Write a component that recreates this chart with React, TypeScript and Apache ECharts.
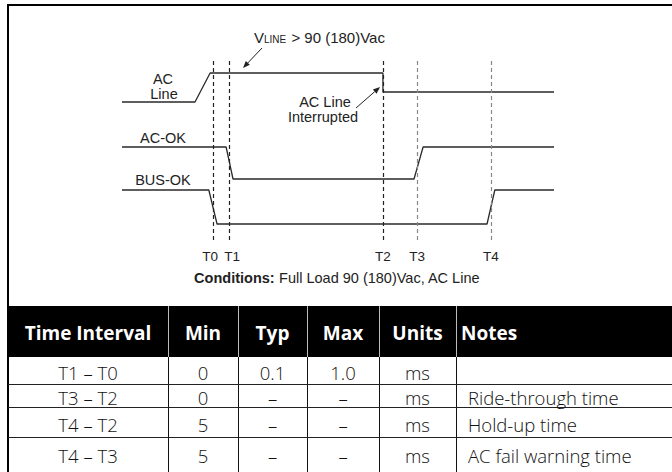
import React, { useEffect, useRef } from "react";
import * as echarts from "echarts";

// ---- Timing diagram data (time in arbitrary units 0..100, level in divisions) ----
const markerNames = ["T0", "T1", "T2", "T3", "T4"];
const markerTimes = [21.1, 24.8, 60.4, 68.3, 85.4];
const markerColors = ["#222", "#222", "#222", "#888", "#888"];

const acLineT = [0, 16.9, 20.4, 60.4, 60.4, 100];
const acLineV = [13.8, 13.8, 16.7, 16.7, 14.8, 14.8];
const acOkT = [0, 24.1, 25.7, 67.6, 69.7, 100];
const acOkV = [9.3, 9.3, 6.1, 6.1, 9.3, 9.3];
const busOkT = [0, 20.1, 22.0, 84.5, 86.3, 100];
const busOkV = [5.0, 5.0, 1.6, 1.6, 5.0, 5.0];

// ---- Table data ----
const headers = ["Time Interval", "Min", "Typ", "Max", "Units", "Notes"];
const intervals = ["T1 – T0", "T3 – T2", "T4 – T2", "T4 – T3"];
const mins = ["0", "0", "5", "5"];
const typs = ["0.1", "–", "–", "–"];
const maxs = ["1.0", "–", "–", "–"];
const units = ["ms", "ms", "ms", "ms"];
const notes = ["", "Ride-through time", "Hold-up time", "AC fail warning time"];

const SANS = "'Liberation Sans', Arial, Helvetica, sans-serif";
const TABLE_FONT = "'Open Sans', 'Noto Sans', sans-serif";

function zip(t: number[], v: number[]) {
  return t.map((x, i) => [x, v[i]]);
}

function arrow(x1: number, y1: number, x2: number, y2: number, color = "#222") {
  const dx = x2 - x1;
  const dy = y2 - y1;
  const len = Math.sqrt(dx * dx + dy * dy);
  const ux = dx / len;
  const uy = dy / len;
  const hl = 7;
  const hw = 2.8;
  const bx = x2 - ux * hl;
  const by = y2 - uy * hl;
  const px = -uy * hw;
  const py = ux * hw;
  return [
    {
      type: "line",
      shape: { x1, y1, x2: bx, y2: by },
      style: { stroke: color, lineWidth: 1 },
      silent: true,
    },
    {
      type: "polygon",
      shape: {
        points: [
          [x2, y2],
          [bx + px, by + py],
          [bx - px, by - py],
        ],
      },
      style: { fill: color },
      silent: true,
    },
  ];
}

function txt(
  text: string,
  x: number,
  y: number,
  opts: { size?: number; weight?: string; fill?: string; align?: string; family?: string } = {}
) {
  const align = opts.align || "center";
  return {
    type: "text",
    x,
    y,
    silent: true,
    style: {
      text,
      fill: opts.fill || "#222",
      fontSize: opts.size || 14,
      fontWeight: opts.weight || "normal",
      fontFamily: opts.family || SANS,
      align,
      textAlign: align,
      verticalAlign: "middle",
      textVerticalAlign: "middle",
    },
  };
}

export default function App() {
  const ref = useRef<HTMLDivElement>(null);

  useEffect(() => {
    if (!ref.current) return;
    const chart = echarts.init(ref.current, null, { renderer: "svg" });

    const graphics: any[] = [];

    // Frame
    graphics.push({
      type: "polyline",
      shape: { points: [[8, 472], [8, 5], [672, 5]] },
      style: { stroke: "#000", lineWidth: 2, fill: "none" },
      silent: true,
    });

    // Channel labels
    graphics.push(txt("AC", 163, 79, { size: 14.5 }));
    graphics.push(txt("Line", 164, 94, { size: 14.5 }));
    graphics.push(txt("AC-OK", 163, 138, { size: 14.5 }));
    graphics.push(txt("BUS-OK", 163, 180, { size: 14.5 }));

    // V_LINE annotation
    graphics.push({
      type: "text",
      x: 254,
      y: 37,
      silent: true,
      style: {
        text: "{v|V}{s|LINE}{v| > 90 (180)Vac}",
        fill: "#222",
        align: "left",
        textAlign: "left",
        verticalAlign: "middle",
        textVerticalAlign: "middle",
        rich: {
          v: { fontSize: 15, fontFamily: SANS, fill: "#222", verticalAlign: "bottom" },
          s: { fontSize: 10, fontFamily: SANS, fill: "#222", verticalAlign: "bottom", padding: [0, 1, 0, 0] },
        },
      },
    });
    graphics.push(...arrow(262, 48, 243, 68));

    // AC Line Interrupted annotation
    graphics.push(txt("AC Line", 325, 102, { size: 14.5 }));
    graphics.push(txt("Interrupted", 323, 117, { size: 14.5 }));
    graphics.push(...arrow(356, 108, 380, 87));

    // Conditions
    graphics.push({
      type: "text",
      x: 337,
      y: 278,
      silent: true,
      style: {
        text: "{b|Conditions:}{r| Full Load 90 (180)Vac, AC Line}",
        align: "center",
        textAlign: "center",
        verticalAlign: "middle",
        textVerticalAlign: "middle",
        rich: {
          b: { fontSize: 14.5, fontWeight: "bold", fontFamily: SANS, fill: "#222" },
          r: { fontSize: 14.5, fontFamily: SANS, fill: "#222" },
        },
      },
    });

    // ---- Table ----
    const colEdges = [8, 168, 238, 307, 379, 456, 672];
    const headTop = 306;
    const headBot = 357;
    const rowEdges = [357, 384, 407, 437, 472];
    const rowTextY = [372, 397, 424, 455];

    graphics.push({
      type: "rect",
      shape: { x: 8, y: headTop, width: 672 - 8, height: headBot - headTop },
      style: { fill: "#000" },
      silent: true,
    });
    for (let c = 1; c < colEdges.length - 1; c++) {
      graphics.push({
        type: "line",
        shape: { x1: colEdges[c] + 0.5, y1: headTop, x2: colEdges[c] + 0.5, y2: headBot },
        style: { stroke: "#bbb", lineWidth: 1 },
        silent: true,
      });
      graphics.push({
        type: "line",
        shape: { x1: colEdges[c] + 0.5, y1: headBot, x2: colEdges[c] + 0.5, y2: 472 },
        style: { stroke: "#111", lineWidth: 1 },
        silent: true,
      });
    }
    for (let r = 1; r < rowEdges.length - 1; r++) {
      graphics.push({
        type: "line",
        shape: { x1: 8, y1: rowEdges[r] + 0.5, x2: 672, y2: rowEdges[r] + 0.5 },
        style: { stroke: "#222", lineWidth: 1 },
        silent: true,
      });
    }
    // headers
    headers.forEach((h, c) => {
      if (c === headers.length - 1) {
        graphics.push(txt(h, 461, 333, { size: 19, weight: "bold", fill: "#fff", align: "left", family: TABLE_FONT }));
      } else {
        const cx = (colEdges[c] + colEdges[c + 1]) / 2;
        graphics.push(txt(h, cx, 333, { size: 19, weight: "bold", fill: "#fff", family: TABLE_FONT }));
      }
    });
    const cols = [intervals, mins, typs, maxs, units];
    intervals.forEach((_, r) => {
      cols.forEach((col, c) => {
        const cx = (colEdges[c] + colEdges[c + 1]) / 2;
        graphics.push(txt(col[r], cx, rowTextY[r], { size: 18.5, weight: "300", fill: "#111", family: TABLE_FONT }));
      });
      if (notes[r]) {
        graphics.push(txt(notes[r], 468, rowTextY[r], { size: 18.5, weight: "300", fill: "#111", align: "left", family: TABLE_FONT }));
      }
    });

    const lineStyle = { color: "#2a2a2a", width: 1.3 };

    chart.setOption({
      animation: false,
      backgroundColor: "#fff",
      grid: { left: 122, right: 118, top: 58, bottom: 232, containLabel: false },
      xAxis: {
        type: "value",
        min: 0,
        max: 100,
        axisLine: { show: false },
        axisTick: { show: false },
        splitLine: { show: false },
        axisLabel: {
          show: true,
          customValues: markerTimes,
          hideOverlap: false,
          margin: 9,
          color: "#222",
          fontSize: 13.5,
          fontFamily: SANS,
          formatter: (v: number) => {
            const i = markerTimes.indexOf(v);
            if (i < 0) return "";
            if (i === 0) return "{l|" + markerNames[i] + "}";
            if (i === 1) return "{r|" + markerNames[i] + "}";
            return markerNames[i];
          },
          rich: {
            l: { fontSize: 13.5, fontFamily: SANS, color: "#222", padding: [0, 6, 0, 0] },
            r: { fontSize: 13.5, fontFamily: SANS, color: "#222", padding: [0, 0, 0, 6] },
          },
        },
      },
      yAxis: {
        type: "value",
        min: 0,
        max: 18.2,
        show: false,
        splitLine: { show: false },
      },
      series: [
        {
          name: "AC Line",
          type: "line",
          data: zip(acLineT, acLineV),
          symbol: "none",
          lineStyle,
          silent: true,
          markLine: {
            silent: true,
            symbol: "none",
            label: { show: false },
            data: markerTimes.map((t, i) => ({
              xAxis: t,
              lineStyle: { color: markerColors[i], width: 1.2, type: [4, 3] },
            })),
          },
        },
        {
          name: "AC-OK",
          type: "line",
          data: zip(acOkT, acOkV),
          symbol: "none",
          lineStyle,
          silent: true,
        },
        {
          name: "BUS-OK",
          type: "line",
          data: zip(busOkT, busOkV),
          symbol: "none",
          lineStyle,
          silent: true,
        },
      ],
      graphic: { elements: graphics },
    });

    return () => chart.dispose();
  }, []);

  return (
    <div
      ref={ref}
      style={{ position: "fixed", left: 0, top: 0, width: 672, height: 472, background: "#fff" }}
    />
  );
}
